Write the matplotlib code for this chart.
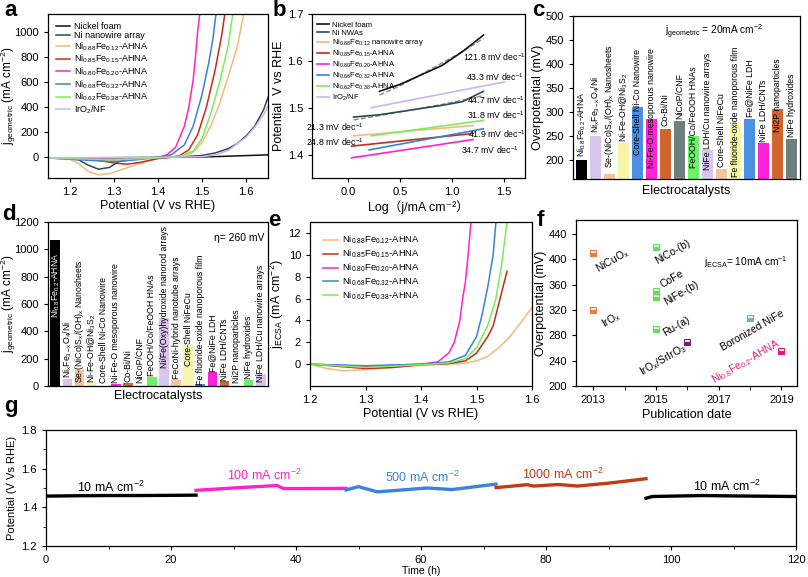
import matplotlib
matplotlib.use("Agg")
import matplotlib.pyplot as plt
from matplotlib.ticker import MultipleLocator

plt.rcParams['font.family'] = ['Liberation Sans', 'DejaVu Sans', 'Noto Sans CJK SC']
plt.rcParams['mathtext.fontset'] = 'custom'
plt.rcParams['mathtext.rm'] = 'Liberation Sans'
plt.rcParams['mathtext.it'] = 'Liberation Sans:italic'
plt.rcParams['mathtext.bf'] = 'Liberation Sans:bold'
plt.rcParams['mathtext.default'] = 'regular'
plt.rcParams['axes.linewidth'] = 0.9
plt.rcParams['xtick.labelsize'] = 8
plt.rcParams['ytick.labelsize'] = 8
plt.rcParams['xtick.major.size'] = 3
plt.rcParams['ytick.major.size'] = 3

# colours
C_BLACK = '#111111'
C_SLATE = '#2d4a55'
C_ORANGE = '#f6b97c'
C_RED = '#c42b1c'
C_MAG = '#ff22c8'
C_BLUE = '#3d80d8'
C_GREEN = '#78ee58'
C_LAV = '#c9b6ee'

# ---------------- data: panel a (LSV, geometric) ----------------
a_labels = ['Nickel foam', 'Ni nanowire array', 'Ni$_{0.88}$Fe$_{0.12}$-AHNA',
            'Ni$_{0.85}$Fe$_{0.15}$-AHNA', 'Ni$_{0.80}$Fe$_{0.20}$-AHNA',
            'Ni$_{0.68}$Fe$_{0.32}$-AHNA', 'Ni$_{0.62}$Fe$_{0.38}$-AHNA', 'IrO$_2$/NF']
a_nf_x = [1.15, 1.3, 1.4, 1.5, 1.55, 1.6, 1.65]
a_nf_y = [-5, -3, 0, 3, 8, 14, 20]
a_nw_x = [1.15, 1.2, 1.22, 1.24, 1.265, 1.29, 1.31, 1.35, 1.4, 1.45, 1.5, 1.53, 1.56, 1.58, 1.6, 1.62, 1.64, 1.65]
a_nw_y = [-5, -10, -20, -60, -95, -80, -35, -10, 0, 3, 15, 35, 70, 110, 170, 250, 380, 480]
a_88_x = [1.15, 1.2, 1.22, 1.24, 1.265, 1.29, 1.32, 1.35, 1.38, 1.4, 1.43, 1.46, 1.48, 1.5, 1.52, 1.54, 1.56, 1.58, 1.595]
a_88_y = [-5, -15, -50, -110, -140, -130, -95, -60, -25, -8, 0, 10, 40, 120, 250, 430, 650, 880, 1150]
a_85_x = [1.15, 1.25, 1.3, 1.33, 1.36, 1.4, 1.43, 1.45, 1.47, 1.49, 1.51, 1.53, 1.545, 1.552]
a_85_y = [-5, -15, -45, -55, -40, -10, 0, 15, 60, 180, 400, 700, 980, 1150]
a_80_x = [1.15, 1.25, 1.3, 1.35, 1.4, 1.42, 1.44, 1.46, 1.47, 1.48, 1.485, 1.49, 1.495]
a_80_y = [-5, -10, -20, -15, 0, 20, 80, 250, 400, 620, 800, 1000, 1150]
a_68_x = [1.15, 1.3, 1.35, 1.4, 1.43, 1.46, 1.48, 1.5, 1.515, 1.525, 1.532]
a_68_y = [-5, -35, -20, 0, 20, 100, 250, 500, 750, 950, 1150]
a_62_x = [1.15, 1.3, 1.4, 1.45, 1.48, 1.5, 1.52, 1.54, 1.55, 1.56, 1.57]
a_62_y = [-5, -20, -5, 10, 50, 150, 350, 600, 750, 900, 1150]
a_ir_x = [1.15, 1.4, 1.5, 1.53, 1.56, 1.58, 1.6, 1.62, 1.64, 1.65]
a_ir_y = [-3, 0, 5, 20, 55, 110, 160, 240, 340, 410]

# ---------------- data: panel b (Tafel) ----------------
b_labels = ['Nickel foam', 'Ni NWAs', 'Ni$_{0.88}$Fe$_{0.12}$ nanowire array',
            'Ni$_{0.85}$Fe$_{0.15}$-AHNA', 'Ni$_{0.80}$Fe$_{0.20}$-AHNA',
            'Ni$_{0.68}$Fe$_{0.32}$-AHNA', 'Ni$_{0.62}$Fe$_{0.38}$-AHNA', 'IrO$_2$/NF']
b_nf_x = [0.3, 0.5, 0.7, 0.9, 1.1, 1.3]
b_nf_y = [1.535, 1.55, 1.57, 1.59, 1.62, 1.655]
b_nf_fit_y = [1.527, 1.547, 1.571, 1.595, 1.62, 1.648]
b_nw_x = [0.05, 0.3, 0.6, 0.9, 1.1, 1.3]
b_nw_y = [1.48, 1.485, 1.495, 1.505, 1.513, 1.535]
b_nw_fit_y = [1.474, 1.483, 1.495, 1.507, 1.516, 1.526]
b_88_x = [0.05, 1.2]
b_88_y = [1.44, 1.462]
b_85_x = [0.03, 1.2]
b_85_y = [1.418, 1.445]
b_80_x = [0.03, 1.2]
b_80_y = [1.393, 1.432]
b_68_x = [0.2, 1.3]
b_68_y = [1.41, 1.455]
b_62_x = [0.22, 1.3]
b_62_y = [1.44, 1.473]
b_ir_x = [0.22, 1.5]
b_ir_y = [1.50, 1.555]
b_slopes = ['121.8', '43.3', '44.7', '31.8', '41.9', '34.7', '21.3', '24.8']

# ---------------- data: panel c (overpotential @ 20 mA cm-2) ----------------
c_names = ['Ni$_{0.8}$Fe$_{0.2}$-AHNA', 'Ni$_x$Fe$_{3-x}$O$_4$/Ni', 'Se-(NiCo)S$_x$/(OH)$_x$ Nanosheets',
           'Ni-Fe-OH@Ni$_3$S$_2$', 'Core-Shell Ni-Co Nanowire', 'Ni-Fe-O mesoporous nanowire',
           'Co-Bi/Ni', 'NiCoP/CNF', 'FeOOH/Co/FeOOH HNAs', 'NiFe LDH/Cu nanowire arrays',
           'Core-Shell NiFeCu', 'Fe fluoride-oxide nanoporous film', 'Fe@NiFe LDH',
           'NiFe LDH/CNTs', 'Ni2P nanoparticles', 'NiFe hydroxides']
c_values = [200, 250, 170, 235, 310, 285, 265, 280, 250, 220, 180, 275, 285, 235, 305, 243]

# ---------------- data: panel d (current @ 260 mV) ----------------
d_names = ['Ni$_{0.8}$Fe$_{0.2}$-AHNA', 'Ni$_x$Fe$_{3-x}$O$_4$/Ni', 'Se-(NiCo)S$_x$/(OH)$_x$ Nanosheets',
           'Ni-Fe-OH@Ni$_3$S$_2$', 'Core-Shell Ni-Co Nanowire', 'Ni-Fe-O mesoporous nanowire',
           'Co-Bi/Ni', 'NiCoP/CNF', 'FeOOH/Co/FeOOH HNAs', 'Ni/Fe(Oxy)hydroxide nanorod arrays',
           'FeCoNi-hybrid nanotube arrays', 'Core-Shell NiFeCu', 'Fe fluoride-oxide nanoporous film',
           'Fe@NiFe LDH', 'NiFe LDH/CNTs', 'Ni2P nanoparticles', 'NiFe hydroxides',
           'NiFe LDH/Cu nanowire arrays']
d_values = [1070, 50, 120, 40, 3, 15, 25, 3, 65, 500, 45, 300, 15, 100, 35, 3, 45, 90]

bar_cycle = ['#000000', '#d8c5ee', '#f6c39c', '#f6f6a6', '#4b8fe2', '#ff22d8',
             '#d0662e', '#6f7f7b', '#6cf26a']

# ---------------- data: panel e (LSV, ECSA) ----------------
e_88_x = [1.2, 1.23, 1.26, 1.3, 1.35, 1.4, 1.45, 1.48, 1.5, 1.52, 1.54, 1.56, 1.58, 1.6]
e_88_y = [0, -0.4, -0.6, -0.5, -0.3, -0.1, 0, 0.1, 0.3, 0.7, 1.5, 2.5, 3.8, 5.2]
e_85_x = [1.2, 1.25, 1.3, 1.35, 1.4, 1.45, 1.48, 1.5, 1.52, 1.53, 1.54, 1.55, 1.555]
e_85_y = [0, -0.2, -0.4, -0.3, -0.05, 0.05, 0.3, 1.0, 2.5, 3.5, 5.5, 7.5, 8.5]
e_80_x = [1.2, 1.3, 1.4, 1.43, 1.45, 1.46, 1.47, 1.475, 1.48, 1.485, 1.49]
e_80_y = [0, -0.2, 0, 0.2, 1.0, 2.0, 4.0, 6.0, 7.5, 10, 13]
e_68_x = [1.2, 1.3, 1.4, 1.45, 1.48, 1.5, 1.51, 1.52, 1.53, 1.535]
e_68_y = [0, -0.15, 0, 0.2, 0.8, 2.5, 4.5, 7, 10, 13]
e_62_x = [1.2, 1.3, 1.4, 1.45, 1.48, 1.5, 1.52, 1.535, 1.545, 1.555]
e_62_y = [0, -0.3, -0.05, 0.1, 0.5, 1.5, 3.5, 6, 9, 13]

# ---------------- data: panel f (overpotential vs year) ----------------
f_names = ['NiCuO$_x$', 'IrO$_x$', 'NiCo-(b)', 'CoFe', 'NiFe-(b)', 'Ru-(a)',
           'IrO$_x$/SrIrO$_3$', 'Boronized NiFe', 'Ni$_{0.8}$Fe$_{0.2}$-AHNA']
f_year = [2013, 2013, 2015, 2015, 2015, 2015, 2016, 2018, 2019]
f_eta = [410, 320, 420, 350, 340, 290, 270, 308, 255]
f_colors = ['#f07b35', '#f07b35', '#5ee05a', '#5ee05a', '#5ee05a', '#5ee05a',
            '#7a1e5e', '#6fb0d8', '#e8197d']

# ---------------- data: panel g (stability) ----------------
g_10a_t = [0, 5, 10, 15, 20, 24]
g_10a_v = [1.458, 1.460, 1.461, 1.461, 1.462, 1.463]
g_100_t = [24, 30, 37, 38, 42, 48]
g_100_v = [1.488, 1.500, 1.513, 1.497, 1.497, 1.498]
g_500_t = [48, 50, 53, 57, 61, 65, 70, 72]
g_500_v = [1.49, 1.507, 1.48, 1.49, 1.50, 1.492, 1.512, 1.52]
g_1000_t = [72, 77, 78, 82, 85, 90, 96]
g_1000_v = [1.502, 1.517, 1.51, 1.518, 1.51, 1.525, 1.548]
g_10b_t = [96, 97, 105, 110, 120]
g_10b_v = [1.447, 1.456, 1.461, 1.459, 1.456]

W, H = 808, 577
fig = plt.figure(figsize=(W / 100, H / 100), dpi=100)


def add_ax(l, t, r, b):
    return fig.add_axes([l / W, 1 - b / H, (r - l) / W, (b - t) / H])


def panel_letter(x, y, s):
    fig.text(x / W, 1 - y / H, s, fontsize=16, fontweight='bold', va='top', ha='left')


# ---------------- a ----------------
ax = add_ax(48, 14, 268, 178)
for xs, ys, c, lab in zip([a_nf_x, a_nw_x, a_88_x, a_85_x, a_80_x, a_68_x, a_62_x, a_ir_x],
                          [a_nf_y, a_nw_y, a_88_y, a_85_y, a_80_y, a_68_y, a_62_y, a_ir_y],
                          [C_BLACK, C_SLATE, C_ORANGE, C_RED, C_MAG, C_BLUE, C_GREEN, C_LAV],
                          a_labels):
    ax.plot(xs, ys, color=c, lw=1.1, label=lab)
ax.set_xlim(1.15, 1.65)
ax.set_ylim(-165, 1145)
ax.set_xticks([1.2, 1.3, 1.4, 1.5, 1.6])
ax.set_yticks([0, 200, 400, 600, 800, 1000])
ax.set_xlabel('Potential (V vs RHE)', fontsize=9, labelpad=2)
ax.set_ylabel('j$_{geometric}$ (mA cm$^{-2}$)', fontsize=8.5)
ax.yaxis.set_label_coords(-0.135, 0.5)
ax.legend(loc='upper left', bbox_to_anchor=(0.02, 0.975), frameon=False, fontsize=6.5,
          handlelength=1.6, handletextpad=0.4, labelspacing=0.02, borderaxespad=0)
panel_letter(4, 0, 'a')

# ---------------- b ----------------
ax = add_ax(312, 14, 525, 178)
ax.plot(b_nf_x, b_nf_fit_y, color='#888888', lw=1.0, ls='--')
ax.plot(b_nw_x, b_nw_fit_y, color='#888888', lw=1.0, ls='--')
for xs, ys, c, lab in zip([b_nf_x, b_nw_x, b_88_x, b_85_x, b_80_x, b_68_x, b_62_x, b_ir_x],
                          [b_nf_y, b_nw_y, b_88_y, b_85_y, b_80_y, b_68_y, b_62_y, b_ir_y],
                          [C_BLACK, C_SLATE, C_ORANGE, C_RED, C_MAG, C_BLUE, C_GREEN, C_LAV],
                          b_labels):
    ax.plot(xs, ys, color=c, lw=1.2, label=lab)
ax.set_xlim(-0.35, 1.7)
ax.set_ylim(1.35, 1.7)
ax.set_xticks([0.0, 0.5, 1.0, 1.5])
ax.set_yticks([1.4, 1.5, 1.6, 1.7])
ax.set_xlabel('Log（j/mA cm⁻²）', fontsize=9, labelpad=2)
ax.set_ylabel('Potential  V vs RHE', fontsize=9, labelpad=2)
ax.legend(loc='upper left', bbox_to_anchor=(0.01, 0.975), frameon=False, fontsize=5.5,
          handlelength=1.6, handletextpad=0.4, labelspacing=0.1, borderaxespad=0)
slope_pos = [(1.41, 1.608), (1.41, 1.565), (1.42, 1.516), (1.42, 1.484),
             (1.43, 1.443), (1.36, 1.409), (-0.13, 1.458), (-0.13, 1.426)]
for s, (tx, ty) in zip(b_slopes, slope_pos):
    ax.text(tx, ty, s + ' mV dec$^{-1}$', fontsize=6.3, ha='center', va='center')
panel_letter(273, 0, 'b')

# ---------------- c ----------------
ax = add_ax(573, 16, 800, 179)
cx = list(range(len(c_values)))
c_cols = [bar_cycle[0]] + [bar_cycle[1 + (i % 8)] for i in range(len(c_values) - 1)]
ax.bar(cx, c_values, width=0.78, color=c_cols)
c_label_y = [205, 255, 183, 238, 210, 183, 270, 285, 183, 179, 186, 164, 289, 238, 258, 248]
for x, s, y in zip(cx, c_names, c_label_y):
    ax.text(x, y, s, rotation=90, ha='center', va='bottom', fontsize=6.3)
ax.set_xlim(-0.6, len(c_values) - 0.4)
ax.set_ylim(160, 500)
ax.set_xticks([])
ax.set_yticks(range(200, 501, 50))
ax.set_xlabel('Electrocatalysts', fontsize=9, labelpad=4)
ax.set_ylabel('Overpotential (mV)', fontsize=9, labelpad=1)
ax.text(0.62, 0.905, 'j$_{geometric}$ = 20mA cm$^{-2}$', transform=ax.transAxes,
        fontsize=7.3, ha='center', va='center')
panel_letter(532, 0, 'c')

# ---------------- d ----------------
ax = add_ax(48, 222, 268, 386)
dx = list(range(len(d_values)))
d_cols = [bar_cycle[0]] + [bar_cycle[1 + (i % 8)] for i in range(len(d_values) - 1)]
ax.bar(dx, d_values, width=0.8, color=d_cols)
d_label_y = [500, 60, 25, 25, 25, 25, 30, 25, 75, 130, 50, 150, 10, 105, 40, 25, 50, 30]
for i, (x, s, y) in enumerate(zip(dx, d_names, d_label_y)):
    ax.text(x, y, s, rotation=90, ha='center', va='bottom', fontsize=6.3,
            color='white' if i == 0 else 'black')
ax.set_xlim(-0.6, len(d_values) - 0.4)
ax.set_ylim(0, 1200)
ax.set_xticks([])
ax.set_yticks(range(0, 1201, 200))
ax.set_xlabel('Electrocatalysts', fontsize=9, labelpad=3)
ax.set_ylabel('j$_{geometric}$ (mA cm$^{-2}$)', fontsize=8.5)
ax.yaxis.set_label_coords(-0.135, 0.5)
ax.text(0.985, 0.9, 'η= 260 mV', transform=ax.transAxes, fontsize=7.5,
        ha='right', va='center')
panel_letter(2, 204, 'd')

# ---------------- e ----------------
ax = add_ax(310, 222, 532, 386)
for xs, ys, c, lab in zip([e_88_x, e_85_x, e_80_x, e_68_x, e_62_x],
                          [e_88_y, e_85_y, e_80_y, e_68_y, e_62_y],
                          [C_ORANGE, C_RED, C_MAG, C_BLUE, C_GREEN], a_labels[2:7]):
    ax.plot(xs, ys, color=c, lw=1.1, label=lab)
ax.set_xlim(1.2, 1.6)
ax.set_ylim(-2, 13)
ax.set_xticks([1.2, 1.3, 1.4, 1.5, 1.6])
ax.set_yticks([0, 2, 4, 6, 8, 10, 12])
ax.set_xlabel('Potential (V vs RHE)', fontsize=9, labelpad=2)
ax.set_ylabel('j$_{ECSA}$ (mA cm$^{-2}$)', fontsize=9, labelpad=2)
ax.legend(loc='upper left', bbox_to_anchor=(0.04, 0.95), frameon=False, fontsize=6.8,
          handlelength=1.6, handletextpad=0.4, labelspacing=0.15, borderaxespad=0)
panel_letter(268, 210, 'e')

# ---------------- f ----------------
ax = add_ax(576, 220, 797, 386)
for yr, eta, c in zip(f_year, f_eta, f_colors):
    ax.plot([yr], [eta], marker='s', ms=5, color=c, fillstyle='bottom',
            markerfacecoloralt='#f4f4f4', markeredgecolor=c, mew=0.8)
f_text_pos = [(2013.6, 398), (2013.57, 304), (2015.52, 412), (2015.5, 369), (2015.8, 346),
              (2015.65, 294), (2015.23, 241), (2018.07, 288), (2017.88, 239)]
for i, (s, (tx, ty)) in enumerate(zip(f_names, f_text_pos)):
    ax.text(tx, ty, s, rotation=30, rotation_mode='anchor', ha='center', va='center',
            fontsize=7.5, color='#e8197d' if i == len(f_names) - 1 else 'black')
ax.text(0.77, 0.745, 'j$_{ECSA}$= 10mA cm$^{-1}$', transform=ax.transAxes, fontsize=7.3,
        ha='center', va='center')
ax.set_xlim(2012.45, 2019.5)
ax.set_ylim(200, 462)
ax.set_xticks([2013, 2015, 2017, 2019])
ax.xaxis.set_minor_locator(MultipleLocator(1))
ax.tick_params(axis='x', which='minor', length=3)
ax.set_yticks(range(200, 441, 40))
ax.set_xlabel('Publication date', fontsize=9, labelpad=3)
ax.set_ylabel('Overpotential (mV)', fontsize=9, labelpad=1)
panel_letter(537, 210, 'f')

# ---------------- g ----------------
ax = add_ax(46, 430, 796, 546)
for ts, vs, c in zip([g_10a_t, g_100_t, g_500_t, g_1000_t, g_10b_t],
                     [g_10a_v, g_100_v, g_500_v, g_1000_v, g_10b_v],
                     ['#000000', '#ff22c8', '#3d80e0', '#c23a16', '#000000']):
    ax.plot(ts, vs, color=c, lw=2.4)
g_texts = [('10 mA cm$^{-2}$', 10.4, 1.505, '#000000'), ('100 mA cm$^{-2}$', 35.0, 1.563, '#ff22c8'),
           ('500 mA cm$^{-2}$', 60.3, 1.555, '#3d80e0'), ('1000 mA cm$^{-2}$', 82.7, 1.57, '#c23a16'),
           ('10 mA cm$^{-2}$', 109.0, 1.508, '#000000')]
for s, tx, ty, c in g_texts:
    ax.text(tx, ty, s, color=c, fontsize=9, ha='center', va='center')
ax.set_xlim(0, 120)
ax.set_ylim(1.2, 1.8)
ax.set_xticks(range(0, 121, 20))
ax.set_yticks([1.2, 1.4, 1.6, 1.8])
ax.xaxis.set_minor_locator(MultipleLocator(10))
ax.yaxis.set_minor_locator(MultipleLocator(0.1))
ax.tick_params(which='minor', length=2)
ax.set_xlabel('Time (h)', fontsize=7.5, labelpad=1)
ax.set_ylabel('Potential (V Vs RHE)', fontsize=8, labelpad=3)
panel_letter(4, 396, 'g')

fig.savefig('out.png', dpi=100)
